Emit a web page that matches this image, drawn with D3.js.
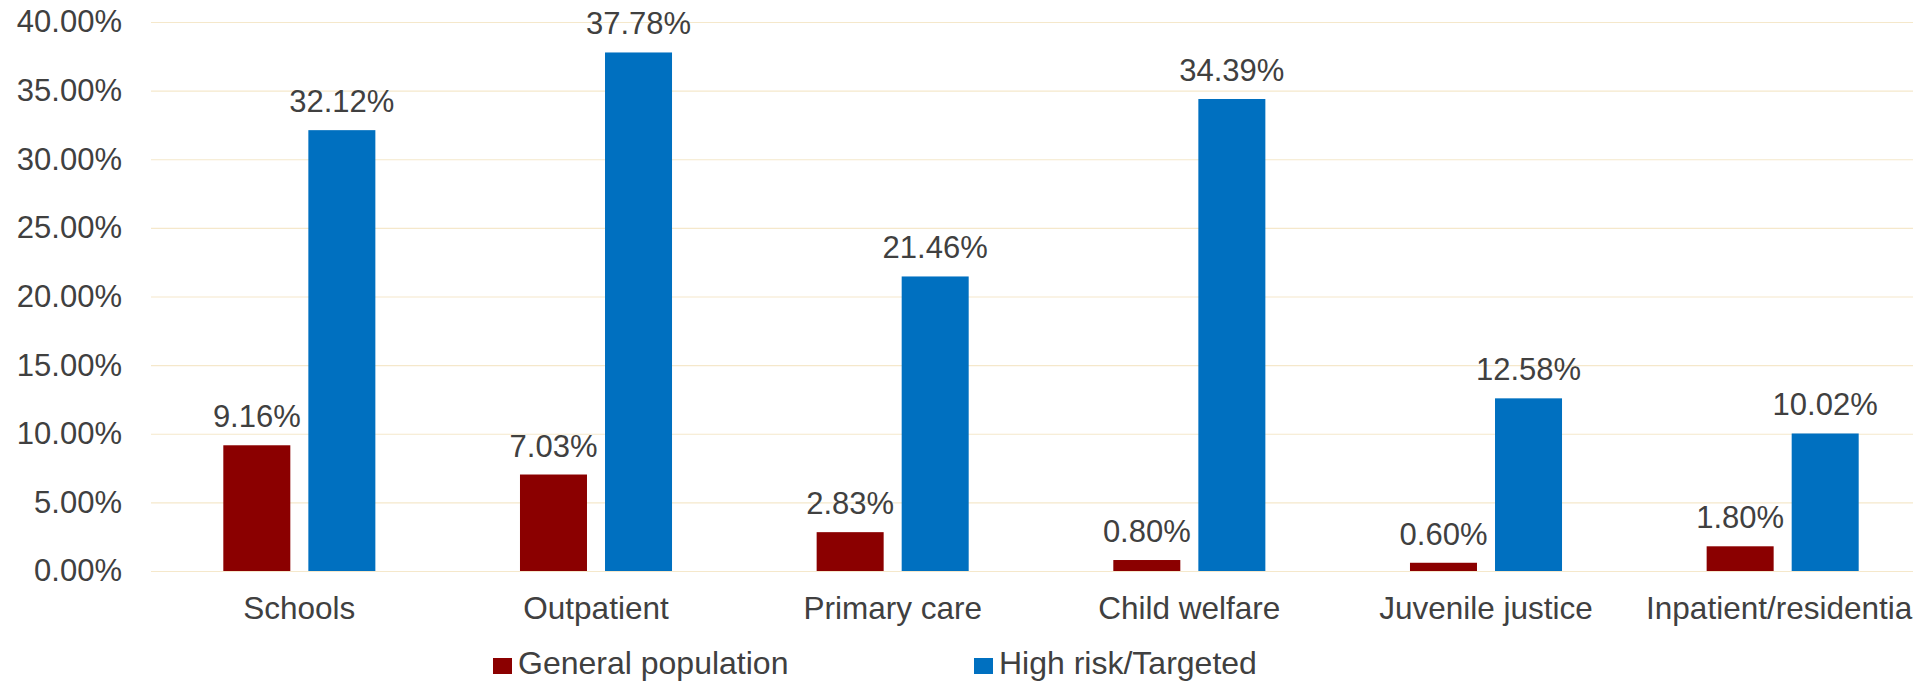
<!DOCTYPE html>
<html>
<head>
<meta charset="utf-8">
<script src="https://cdn.jsdelivr.net/npm/d3@7"></script>
<style>
  html, body { margin: 0; padding: 0; background: #fff; overflow: hidden; }
  svg { display: block; font-family: "Liberation Sans", Arial, sans-serif; }
</style>
</head>
<body>
<svg id="vis"></svg>
<script>
const categories = ["Schools", "Outpatient", "Primary care", "Child welfare", "Juvenile justice", "Inpatient/residential"];
const series = ["General population", "High risk/Targeted"];
const general = [9.16, 7.03, 2.83, 0.80, 0.60, 1.80];
const targeted = [32.12, 37.78, 21.46, 34.39, 12.58, 10.02];
const yTicks = [0, 5, 10, 15, 20, 25, 30, 35, 40];
const colors = ["#8b0000", "#0070c0"];

let config = { svg: {}, plot: {} };
config.svg.width = 1913;
config.svg.height = 683;
config.plot.left = 151;
config.plot.right = 1931;
config.plot.top = 22;
config.plot.bottom = 571;

const svg = d3.select("svg#vis")
  .attr("width", config.svg.width)
  .attr("height", config.svg.height);

let scale = {};
scale.x = d3.scaleBand()
  .domain(categories)
  .range([config.plot.left, config.plot.right])
  .paddingInner(0.4875)
  .paddingOuter(0.24375);

scale.x1 = d3.scaleBand()
  .domain(series)
  .range([0, scale.x.bandwidth()])
  .paddingInner(0.212)
  .paddingOuter(0);

scale.y = d3.scaleLinear()
  .domain([0, 40])
  .range([config.plot.bottom, config.plot.top]);

scale.color = d3.scaleOrdinal(series, colors);

// gridlines + y labels
let axisY = d3.axisLeft(scale.y)
  .tickValues(yTicks)
  .tickSize(-(config.svg.width - config.plot.left))
  .tickPadding(29)
  .tickFormat(d => d.toFixed(2) + "%");

let gy = svg.append("g")
  .attr("transform", translate(config.plot.left, 0))
  .call(axisY);
gy.select(".domain").remove();
gy.selectAll(".tick line").attr("stroke", "#f5e8cb").attr("stroke-width", 1.2);
gy.selectAll(".tick text")
  .attr("fill", "#404040")
  .attr("font-size", "31px")
  .attr("font-family", "\"Liberation Sans\", Arial, sans-serif");

// x labels (last one runs off the right edge, as in the original)
let axisX = d3.axisBottom(scale.x).tickSize(0).tickPadding(26);
let gx = svg.append("g")
  .attr("transform", translate(0, config.plot.bottom))
  .call(axisX);
gx.select(".domain").remove();
gx.selectAll(".tick text")
  .attr("fill", "#404040")
  .attr("font-size", "31.5px")
  .attr("font-family", "\"Liberation Sans\", Arial, sans-serif");

let rows = categories.map((c, i) => ({
  category: c,
  values: [
    { key: series[0], value: general[i] },
    { key: series[1], value: targeted[i] }
  ]
}));

let groups = svg.append("g").selectAll("g")
  .data(rows)
  .enter()
  .append("g")
  .attr("transform", d => translate(scale.x(d.category), 0));

groups.selectAll("rect")
  .data(d => d.values)
  .enter()
  .append("rect")
  .attr("x", d => scale.x1(d.key))
  .attr("y", d => scale.y(d.value))
  .attr("width", scale.x1.bandwidth())
  .attr("height", d => scale.y(0) - scale.y(d.value))
  .attr("fill", d => scale.color(d.key));

groups.selectAll("text")
  .data(d => d.values)
  .enter()
  .append("text")
  .attr("x", d => scale.x1(d.key) + scale.x1.bandwidth() / 2)
  .attr("y", d => scale.y(d.value) - 18)
  .attr("text-anchor", "middle")
  .attr("fill", "#404040")
  .attr("font-size", "31px")
  .text(d => d.value.toFixed(2) + "%");

// legend
let legendX = [493, 974];
let legend = svg.append("g").selectAll("g")
  .data(series)
  .enter()
  .append("g")
  .attr("transform", (d, i) => translate(legendX[i], 0));

legend.append("rect")
  .attr("y", 658)
  .attr("width", 19)
  .attr("height", 16)
  .attr("fill", d => scale.color(d));

legend.append("text")
  .attr("x", 25)
  .attr("y", 674)
  .attr("fill", "#404040")
  .attr("font-size", "32px")
  .text(d => d);

function translate(x, y) {
  return "translate(" + x + "," + y + ")";
}
</script>
</body>
</html>
